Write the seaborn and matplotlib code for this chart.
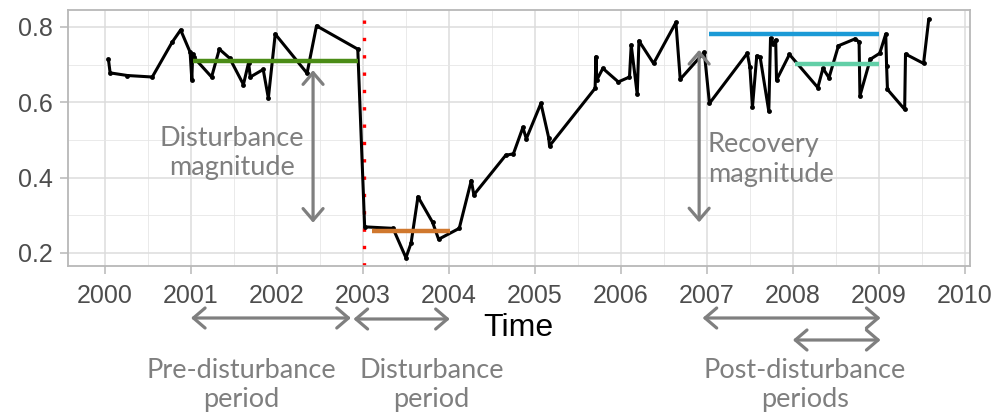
import matplotlib
matplotlib.use("Agg")
import matplotlib.pyplot as plt
import seaborn as sns
import pandas as pd
from matplotlib.ticker import MultipleLocator

# ---------------- data ----------------
time = [2000.04, 2000.06, 2000.26, 2000.55, 2000.78, 2000.88, 2000.99, 2001.01, 2001.02, 2001.03,
        2001.24, 2001.33, 2001.45, 2001.61, 2001.67, 2001.69, 2001.84, 2001.90, 2001.98, 2002.35,
        2002.46, 2002.94, 2003.02, 2003.35, 2003.50, 2003.56, 2003.64, 2003.81, 2003.88, 2004.12,
        2004.26, 2004.29, 2004.66, 2004.75, 2004.86, 2004.90, 2005.07, 2005.16, 2005.17, 2005.70,
        2005.71, 2005.72, 2005.79, 2005.97, 2006.10, 2006.12, 2006.19, 2006.21, 2006.38, 2006.64,
        2006.69, 2006.97, 2007.03, 2007.47, 2007.50, 2007.53, 2007.58, 2007.62, 2007.72, 2007.74,
        2007.77, 2007.80, 2007.81, 2007.96, 2008.29, 2008.35, 2008.42, 2008.53, 2008.72, 2008.77,
        2008.78, 2008.90, 2009.01, 2009.08, 2009.09, 2009.10, 2009.30, 2009.31, 2009.52, 2009.58]
value = [0.714, 0.678, 0.671, 0.667, 0.759, 0.792, 0.733, 0.660, 0.728, 0.720,
         0.667, 0.741, 0.717, 0.647, 0.705, 0.667, 0.687, 0.611, 0.781, 0.677,
         0.803, 0.741, 0.269, 0.265, 0.187, 0.226, 0.349, 0.281, 0.236, 0.265,
         0.392, 0.354, 0.459, 0.463, 0.533, 0.503, 0.597, 0.506, 0.484, 0.637,
         0.721, 0.659, 0.690, 0.654, 0.667, 0.752, 0.621, 0.763, 0.703, 0.812,
         0.661, 0.733, 0.597, 0.730, 0.694, 0.587, 0.723, 0.719, 0.576, 0.770,
         0.756, 0.765, 0.659, 0.727, 0.639, 0.690, 0.665, 0.750, 0.768, 0.761,
         0.617, 0.714, 0.730, 0.781, 0.697, 0.634, 0.581, 0.728, 0.703, 0.820]

period_names = ["pre", "disturbance", "post1", "post2"]
period_start = [2001.02, 2003.10, 2007.03, 2008.02]
period_end = [2002.94, 2004.01, 2009.00, 2009.00]
period_mean = [0.709, 0.259, 0.780, 0.701]
period_colors = ["#4b8c16", "#d0782e", "#1b9ad6", "#62cfa7"]

disturbance_date = 2003.01

x_ticks = list(range(2000, 2011))
y_ticks = [0.2, 0.4, 0.6, 0.8]

# ---------------- style ----------------
sns.set_theme(style="whitegrid")
plt.rcParams["font.family"] = ["Liberation Sans", "DejaVu Sans"]

GRAY = "#7f7f7f"
ANNOT_FONT = ["Lato", "DejaVu Sans"]

fig = plt.figure(figsize=(9.92, 4.17), dpi=100)
ax = fig.add_axes([68 / 992, (417 - 266) / 417, (970 - 68) / 992, (266 - 10) / 417])
ax.set_facecolor("white")

df = pd.DataFrame({"Time": time, "value": value})
sns.lineplot(data=df, x="Time", y="value", ax=ax, sort=False, estimator=None,
             color="black", lw=2.2, marker="o", markersize=3.5, markeredgewidth=0,
             zorder=3)

# period means
for s, e, m, c in zip(period_start, period_end, period_mean, period_colors):
    ax.hlines(m, s, e, colors=c, lw=3.2, zorder=4)

# disturbance date
ax.axvline(disturbance_date, color="red", lw=2.4, linestyle=(0, (1, 4.2)), zorder=2)

ax.set_xlim(1999.57, 2010.06)
ax.set_ylim(0.165, 0.845)
ax.set_xticks(x_ticks)
ax.set_yticks(y_ticks)
ax.xaxis.set_minor_locator(MultipleLocator(0.5))
ax.yaxis.set_minor_locator(MultipleLocator(0.1))
ax.grid(which="major", color="#dcdcdc", lw=1.1)
ax.grid(which="minor", color="#e6e6e6", lw=0.6)
for sp in ax.spines.values():
    sp.set_color("#b8b8b8")
    sp.set_linewidth(1.3)
ax.tick_params(which="major", length=5.8, width=1.1, color="#b8b8b8",
               labelcolor="#4d4d4d", labelsize=18, bottom=True, left=True)
ax.tick_params(axis="x", pad=7.5)
ax.tick_params(axis="y", pad=5)
ax.tick_params(which="minor", length=0)
ax.set_ylabel("")
ax.set_xlabel("Time", fontsize=23, color="black")
ax.xaxis.label.set_va("center")
ax.xaxis.set_label_coords((518 - 68) / 902, (266 - 328) / 256)

# ---------------- annotations ----------------
arrow_kw = dict(arrowstyle="<->,head_length=0.42,head_width=0.36", color=GRAY,
                lw=2.3, shrinkA=0, shrinkB=0, mutation_scale=20)

# magnitude arrows (data coordinates)
ax.annotate("", xy=(2002.42, 0.685), xytext=(2002.42, 0.280), arrowprops=arrow_kw, zorder=5)
ax.annotate("", xy=(2006.91, 0.739), xytext=(2006.91, 0.281), arrowprops=arrow_kw, zorder=5)

ax.text(2001.48, 0.465, "Disturbance\nmagnitude", ha="center", va="center",
        color=GRAY, fontsize=19.5, family=ANNOT_FONT, linespacing=1.2)
ax.text(2007.01, 0.449, "Recovery\nmagnitude", ha="left", va="center",
        color=GRAY, fontsize=19.5, family=ANNOT_FONT, linespacing=1.25)

# period arrows below the axis (x in data, y in axes fraction)
tr = ax.get_xaxis_transform()
def yfrac(py):
    return (266 - py) / 256

period_arrows = [(2001.00, 2002.86, 318), (2002.89, 2004.01, 319),
                 (2006.95, 2009.02, 318), (2008.00, 2009.02, 340)]
for x0, x1, py in period_arrows:
    ax.annotate("", xy=(x0, yfrac(py)), xytext=(x1, yfrac(py)), xycoords=tr,
                textcoords=tr, arrowprops=arrow_kw, annotation_clip=False)

for xc, label in [(2001.59, "Pre-disturbance\nperiod"), (2003.80, "Disturbance\nperiod"),
                  (2008.14, "Post-disturbance\nperiods")]:
    ax.text(xc, yfrac(384.5), label, transform=tr, ha="center", va="center",
            color=GRAY, fontsize=19.5, family=ANNOT_FONT, linespacing=1.2, clip_on=False)

fig.savefig("out.png", dpi=100)
